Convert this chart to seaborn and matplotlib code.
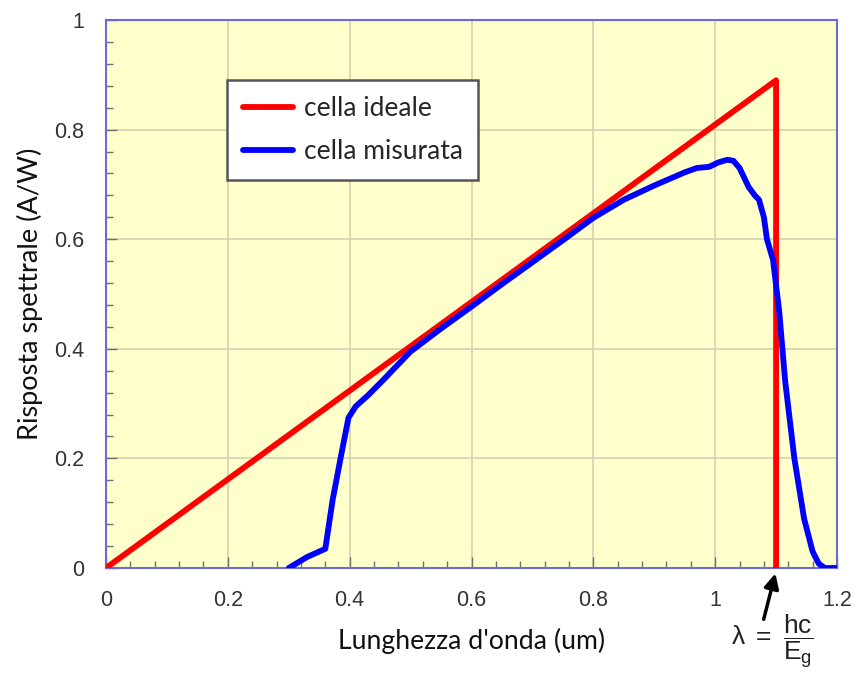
import numpy as np
import pandas as pd
import seaborn as sns
import matplotlib
matplotlib.use("Agg")
import matplotlib.pyplot as plt
from matplotlib.ticker import MultipleLocator

# ---- data ----
ideal_x = [0.0, 1.1, 1.1]
ideal_y = [0.0, 0.89, 0.0]

meas_x = [0.30, 0.33, 0.36, 0.372, 0.385, 0.398, 0.41, 0.43, 0.455, 0.50, 0.55,
          0.60, 0.65, 0.70, 0.75, 0.80, 0.85, 0.90, 0.95, 0.97, 0.99, 1.005,
          1.02, 1.03, 1.04, 1.055, 1.065, 1.072, 1.08, 1.085, 1.095, 1.105,
          1.115, 1.13, 1.146, 1.16, 1.17, 1.18, 1.20]
meas_y = [0.0, 0.02, 0.035, 0.124, 0.20, 0.274, 0.295, 0.315, 0.343, 0.395, 0.437,
          0.477, 0.518, 0.558, 0.598, 0.639, 0.672, 0.698, 0.722, 0.730, 0.732, 0.740,
          0.745, 0.743, 0.730, 0.695, 0.680, 0.672, 0.640, 0.600, 0.562, 0.470,
          0.340, 0.200, 0.090, 0.030, 0.008, 0.0, 0.0]

series_names = ["cella ideale", "cella misurata"]
xticks = [0, 0.2, 0.4, 0.6, 0.8, 1.0, 1.2]
xticklabels = ["0", "0.2", "0.4", "0.6", "0.8", "1", "1.2"]
yticks = [0, 0.2, 0.4, 0.6, 0.8, 1.0]
yticklabels = ["0", "0.2", "0.4", "0.6", "0.8", "1"]

df = pd.concat([
    pd.DataFrame({"x": ideal_x, "y": ideal_y, "serie": series_names[0]}),
    pd.DataFrame({"x": meas_x, "y": meas_y, "serie": series_names[1]}),
], ignore_index=True)

sns.set_style("white")
plt.rcParams["mathtext.fontset"] = "custom"
plt.rcParams["mathtext.rm"] = "Liberation Sans"
plt.rcParams["mathtext.it"] = "Liberation Sans"

fig = plt.figure(figsize=(8.58, 6.75), dpi=100)
ax = fig.add_axes([106/858, 1 - 568/675, (837 - 106)/858, (568 - 20)/675])
ax.set_facecolor("#ffffcc")

sns.lineplot(data=df, x="x", y="y", hue="serie", sort=False,
             palette={series_names[0]: "#ff0000", series_names[1]: "#0000ff"},
             linewidth=4.2, ax=ax, legend=True, estimator=None, zorder=3)

ax.set_xlim(0, 1.2)
ax.set_ylim(0, 1)
ax.set_xticks(xticks)
ax.set_xticklabels(xticklabels)
ax.set_yticks(yticks)
ax.set_yticklabels(yticklabels)
ax.xaxis.set_minor_locator(MultipleLocator(0.04))
ax.yaxis.set_minor_locator(MultipleLocator(0.04))
ax.tick_params(which="both", direction="in", colors="#707070", labelcolor="#333333",
               bottom=True, left=True, top=False, right=False)
ax.tick_params(which="major", length=8, width=1, labelsize=15.5, pad=16)
ax.tick_params(which="minor", length=5, width=1)
for lab in ax.get_xticklabels() + ax.get_yticklabels():
    lab.set_family("Liberation Sans")
ax.grid(True, which="major", color="#d2d2b4", linewidth=1.2)
ax.set_axisbelow(True)
for sp in ax.spines.values():
    sp.set_color("#6b6bd6")
    sp.set_linewidth(1.5)
    sp.set_visible(True)

ax.set_xlabel("Lunghezza d'onda (um)", fontsize=19.2, family="Lato", color="#111111", labelpad=12)
ax.set_ylabel("Risposta spettrale (A/W)", fontsize=19.5, family="Lato", color="#111111", labelpad=8)

handles, labels = ax.get_legend_handles_labels()
leg = ax.legend(handles, labels, loc="upper left",
                bbox_to_anchor=((227 - 106)/731, (568 - 80)/548), borderaxespad=0,
                fancybox=False, frameon=True, prop={"family": "Lato", "size": 19},
                handlelength=1.9, handletextpad=0.4, borderpad=0.6, labelspacing=0.7)
leg.get_frame().set_edgecolor("#555555")
leg.get_frame().set_linewidth(1.8)
leg.get_frame().set_facecolor("white")
leg.get_frame().set_alpha(1)
for h in leg.get_lines():
    h.set_linewidth(4.2)

ax.annotate("", xy=(1.1, -0.005), xycoords="data",
            xytext=(763, 675 - 622), textcoords="figure pixels",
            arrowprops=dict(arrowstyle="-|>", color="black", lw=2.5, mutation_scale=22),
            annotation_clip=False)
fig.text(772/858, 1 - 641/675, r"$\lambda\ =\ \dfrac{\mathrm{hc}}{\mathrm{E_g}}$",
         ha="center", va="center", fontsize=19, color="#222222")

fig.savefig("out.png", dpi=100)
